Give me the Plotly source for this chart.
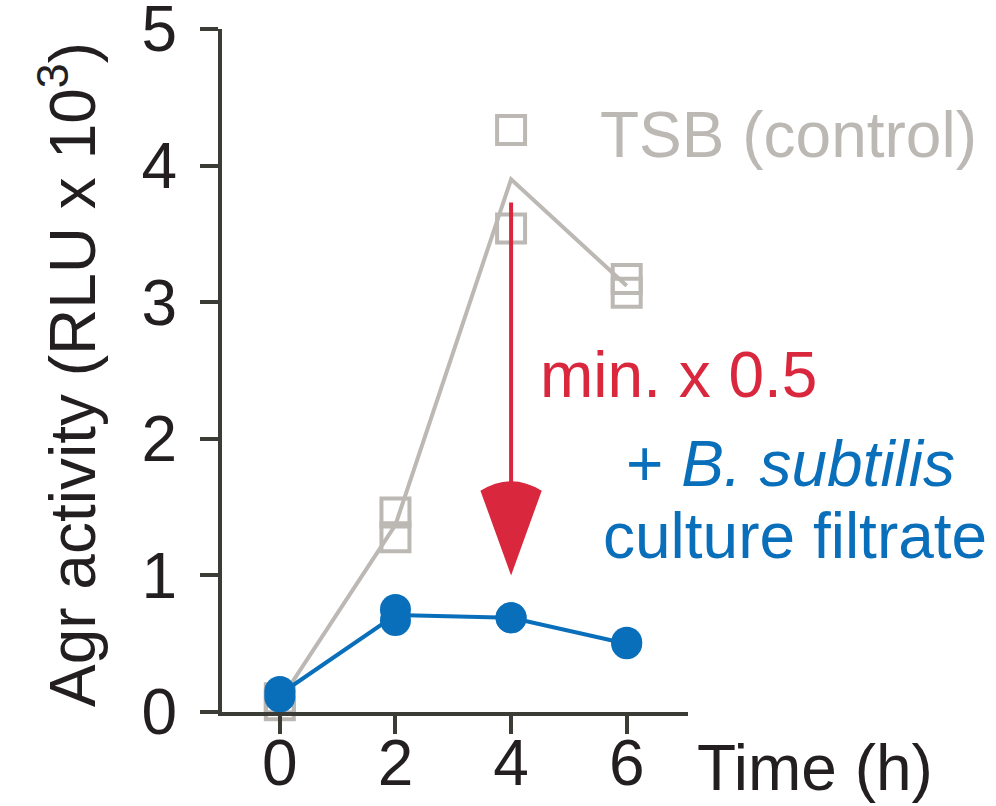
import plotly.graph_objects as go

# ---- data ----
time_h = [0, 2, 4, 6]
tsb_rep1 = [0.05, 1.46, 4.26, 3.17]
tsb_rep2 = [0.10, 1.28, 3.54, 3.07]
tsb_mean = [0.08, 1.37, 3.90, 3.12]
bs_rep1 = [0.11, 0.75, 0.69, 0.51]
bs_rep2 = [0.15, 0.67, 0.69, 0.50]
bs_mean = [0.13, 0.71, 0.69, 0.50]
x_ticks = [0, 2, 4, 6]
y_ticks = [0, 1, 2, 3, 4, 5]
arrow_x = 4
arrow_y_start = 3.73
arrow_y_tip = 1.0

GRAY = "#bcb8b4"
BLUE = "#0a6fba"
RED = "#d9283d"
AXIS = "#3c3c37"
TEXT = "#231f20"
FONT = "Liberation Sans, Arial, sans-serif"
FS = 64

W, H = 996, 806
L, R, T, B = 222, 308, 29, 94
PW, PH = W - L - R, H - T - B


def px(xp, yp):
    return (xp - L) / PW, (H - B - yp) / PH


fig = go.Figure()
fig.add_trace(go.Scatter(x=time_h, y=tsb_mean, mode="lines",
                         line=dict(color=GRAY, width=4), cliponaxis=False, showlegend=False))
for rep in (tsb_rep1, tsb_rep2):
    fig.add_trace(go.Scatter(x=time_h, y=rep, mode="markers", cliponaxis=False, showlegend=False,
                             marker=dict(symbol="square-open", size=28, color=GRAY,
                                         line=dict(color=GRAY, width=4))))
fig.add_trace(go.Scatter(x=time_h, y=bs_mean, mode="lines",
                         line=dict(color=BLUE, width=4), cliponaxis=False, showlegend=False))
for rep in (bs_rep1, bs_rep2):
    fig.add_trace(go.Scatter(x=time_h, y=rep, mode="markers", cliponaxis=False, showlegend=False,
                             marker=dict(symbol="circle", size=31, color=BLUE, line=dict(width=0))))

# arrow
fig.add_shape(type="line", x0=arrow_x, x1=arrow_x, y0=arrow_y_start, y1=arrow_y_tip + 0.65,
              xref="x", yref="y", line=dict(color=RED, width=4))
hw = 0.53
top = arrow_y_tip + 0.62
ctrl = arrow_y_tip + 0.76
fig.add_shape(type="path", xref="x", yref="y", fillcolor=RED, line=dict(width=0),
              path=f"M {arrow_x - hw},{top} Q {arrow_x},{ctrl} {arrow_x + hw},{top} "
                   f"L {arrow_x},{arrow_y_tip} Z")


def ann(text, xp, yp, color, xanchor="left", angle=0):
    xx, yy = px(xp, yp)
    fig.add_annotation(text=text, x=xx, y=yy, xref="paper", yref="paper", showarrow=False,
                       xanchor=xanchor, yanchor="middle", textangle=angle,
                       font=dict(family=FONT, size=FS, color=color))


ann("TSB (control)", 598, 135, GRAY)
ann("min. x 0.5", 538, 375, RED)
ann("+ <i>B. subtilis</i>", 790, 464, BLUE, xanchor="center")
ann("culture filtrate", 795, 536, BLUE, xanchor="center")
ann("Time (h)", 695, 768, TEXT)
ann("Agr activity (RLU x 10<sup>3</sup>)", 68, 375, TEXT, xanchor="center", angle=-90)

fig.update_xaxes(range=[-1, 7.06], tickvals=x_ticks, ticktext=[str(v) for v in x_ticks],
                 showline=True, linecolor=AXIS, linewidth=4, ticks="outside", ticklen=18,
                 tickwidth=4, tickcolor=AXIS, showgrid=False, zeroline=False, automargin=False,
                 tickfont=dict(family=FONT, size=FS, color=TEXT), ticklabelstandoff=-26,
                 ticklabeloverflow="allow")
fig.update_yaxes(range=[0, 5], tickvals=y_ticks, ticktext=[str(v) for v in y_ticks],
                 showline=True, linecolor=AXIS, linewidth=4, ticks="outside", ticklen=18,
                 tickwidth=4, tickcolor=AXIS, showgrid=False, zeroline=False, automargin=False,
                 tickfont=dict(family=FONT, size=FS, color=TEXT), ticklabelstandoff=10,
                 ticklabeloverflow="allow")
fig.update_layout(width=W, height=H, margin=dict(l=L, r=R, t=T, b=B),
                  plot_bgcolor="white", paper_bgcolor="white")
fig.write_html("out.html")
